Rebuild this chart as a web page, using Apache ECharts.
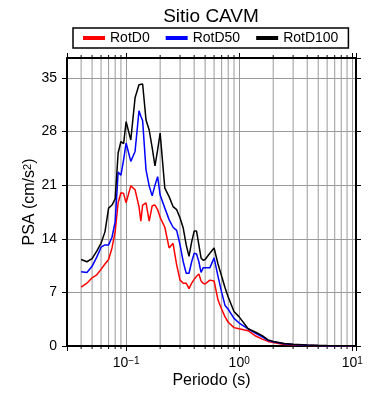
<!DOCTYPE html>
<html lang="es">
  <head>
    <meta charset="UTF-8" />
    <title>Sitio CAVM</title>
    <script src="https://cdn.jsdelivr.net/npm/echarts@6/dist/echarts.min.js"></script>
  </head>
  <body style="margin: 0">
    <div id="main" style="width: 390px; height: 400px"></div>
    <script>
      // periodos (s) y PSA (cm/s2)
      var periodos = [0.04, 0.045, 0.05, 0.055, 0.06, 0.065, 0.07, 0.075, 0.08, 0.085, 0.09, 0.095, 0.1, 0.11, 0.12, 0.13, 0.135, 0.14, 0.15, 0.16, 0.17, 0.18, 0.19, 0.2, 0.22, 0.24, 0.26, 0.28, 0.3, 0.32, 0.34, 0.36, 0.38, 0.4, 0.42, 0.44, 0.46, 0.48, 0.5, 0.55, 0.6, 0.65, 0.7, 0.75, 0.8, 0.9, 1, 1.2, 1.4, 1.6, 1.8, 2, 2.5, 3, 4, 5, 6, 8, 10];
      var rotD0 = [7.7, 8.2, 8.9, 9.3, 10.0, 10.7, 11.3, 12.8, 14.9, 18.7, 20.0, 19.9, 18.7, 20.9, 20.4, 18.2, 16.3, 18.4, 18.7, 16.3, 18.3, 18.4, 17.8, 16.8, 15.5, 12.8, 13.4, 10.6, 8.6, 8.2, 8.2, 7.5, 8.2, 8.7, 9.1, 9.4, 8.5, 8.2, 8.1, 8.6, 8.5, 6.0, 4.8, 3.8, 3.1, 2.4, 2.25, 2.0, 1.3, 0.9, 0.6, 0.45, 0.2, 0.15, 0.08, 0.05, 0.03, 0.02, 0.01];
      var rotD50 = [9.7, 9.6, 10.4, 11.6, 12.9, 13.2, 13.2, 14.2, 16.2, 22.7, 22.3, 24.3, 26.5, 24.1, 25.4, 30.7, 30.0, 29.4, 23.0, 20.9, 19.6, 21.0, 22.1, 19.7, 18.0, 16.5, 15.5, 15.1, 13.2, 11.0, 9.5, 9.5, 11.0, 12.1, 12.0, 11.0, 9.6, 10.2, 10.2, 10.2, 11.5, 9.1, 7.0, 5.3, 4.8, 3.6, 3.0, 2.25, 1.65, 1.2, 0.75, 0.55, 0.3, 0.2, 0.1, 0.06, 0.04, 0.03, 0.02];
      var rotD100 = [11.3, 11.0, 11.4, 12.4, 13.4, 14.9, 18.0, 18.4, 19.2, 25.2, 26.7, 26.4, 29.3, 26.9, 32.4, 34.1, 34.3, 34.2, 29.5, 28.2, 25.9, 23.5, 25.6, 27.8, 20.6, 19.5, 18.2, 17.8, 16.7, 15.4, 13.2, 11.7, 13.6, 15.0, 15.0, 13.2, 11.5, 11.2, 11.3, 12.1, 12.8, 10.7, 9.1, 7.6, 6.4, 4.5, 3.8, 2.25, 1.8, 1.35, 0.8, 0.6, 0.33, 0.22, 0.12, 0.07, 0.05, 0.03, 0.02];

      var nombres = ['RotD0', 'RotD50', 'RotD100'];
      var colores = ['#ff0000', '#0000ff', '#000000'];
      // lineas menores del eje log (2..9 de cada decada)
      var menores = [0.04, 0.05, 0.06, 0.07, 0.08, 0.09, 0.2, 0.3, 0.4, 0.5, 0.6, 0.7, 0.8, 0.9, 2, 3, 4, 5, 6, 7, 8, 9];
      var xMayores = [0.1, 1, 10];
      var xEtiquetas = ['10{s|\u22121}', '10{s|0}', '10{s|1}'];

      var xMin = 0.03, xMax = 10.8, yMax = 37.6;
      var gris = '#9a9a9a';

      var chart = echarts.init(document.getElementById('main'));

      function pares(vals) {
        return periodos.map(function (p, i) {
          return [p, vals[i]];
        });
      }

      var series = [nombres[0], nombres[1], nombres[2]].map(function (n, k) {
        return {
          name: n,
          type: 'line',
          data: pares([rotD0, rotD50, rotD100][k]),
          symbol: 'none',
          lineStyle: { color: colores[k], width: 1.5 },
          itemStyle: { color: colores[k] },
          z: 3,
        };
      });

      // rejilla menor + marcas menores arriba y abajo
      series.push({
        type: 'custom',
        data: menores.map(function (v) { return [v, 0]; }),
        z: 1,
        silent: true,
        renderItem: function (params, api) {
          var x = api.value(0);
          var b = api.coord([x, 0]);
          var t = api.coord([x, yMax]);
          return {
            type: 'group',
            children: [
              { type: 'line', shape: { x1: b[0], y1: b[1] - 1, x2: t[0], y2: t[1] + 1 }, style: { stroke: gris, lineWidth: 1 } },
              { type: 'line', shape: { x1: b[0], y1: b[1], x2: b[0], y2: b[1] + 3 }, style: { stroke: '#000', lineWidth: 1 } },
              { type: 'line', shape: { x1: t[0], y1: t[1], x2: t[0], y2: t[1] - 3 }, style: { stroke: '#000', lineWidth: 1 } },
            ],
          };
        },
      });

      function ejeX(pos, etiquetas) {
        return {
          type: 'log',
          logBase: 10,
          position: pos,
          min: xMin,
          max: xMax,
          name: pos === 'bottom' ? 'Periodo (s)' : '',
          nameLocation: 'middle',
          nameGap: 27,
          nameMoveOverlap: false,
          nameTextStyle: { fontSize: 16, color: '#000' },
          axisLine: { show: true, onZero: false, lineStyle: { color: '#000', width: 2 } },
          axisTick: { show: true, length: 5, lineStyle: { color: '#000' } },
          splitLine: { show: pos === 'bottom', lineStyle: { color: gris, width: 1 } },
          axisLabel: {
            show: etiquetas,
            margin: 10,
            color: '#000',
            formatter: function (v) {
              for (var i = 0; i < xMayores.length; i++) {
                if (Math.abs(Math.log10(v) - Math.log10(xMayores[i])) < 1e-6) return xEtiquetas[i];
              }
              return '';
            },
            rich: {
              s: { fontSize: 10, verticalAlign: 'top', lineHeight: 12, color: '#000' },
            },
            fontSize: 14,
          },
        };
      }

      function ejeY(pos, etiquetas) {
        return {
          type: 'value',
          position: pos,
          min: 0,
          max: yMax,
          interval: 7,
          name: pos === 'left' ? 'PSA (cm/s{s|2})' : '',
          nameLocation: 'middle',
          nameGap: 29,
          nameMoveOverlap: false,
          nameTextStyle: {
            fontSize: 16,
            color: '#000',
            rich: { s: { fontSize: 11, verticalAlign: 'top', lineHeight: 12 } },
          },
          axisLine: { show: true, lineStyle: { color: '#000', width: 2 } },
          axisTick: { show: true, length: 5, lineStyle: { color: '#000' } },
          splitLine: { show: pos === 'left', lineStyle: { color: gris, width: 1 } },
          axisLabel: { show: etiquetas, showMaxLabel: false, margin: 10, fontSize: 14, color: '#000' },
        };
      }

      var option = {
        animation: false,
        textStyle: { fontFamily: 'Liberation Sans' },
        title: {
          text: 'Sitio CAVM',
          left: 211,
          textAlign: 'center',
          top: 7,
          padding: 0,
          textStyle: { fontSize: 19, fontWeight: 'normal', color: '#000' },
        },
        legend: {
          left: 73,
          top: 28,
          padding: [3, 10],
          itemGap: 16,
          itemWidth: 22,
          itemHeight: 4,
          borderColor: '#000',
          borderWidth: 1.5,
          borderRadius: 0,
          backgroundColor: '#fff',
          textStyle: { fontSize: 14, color: '#000' },
          data: nombres.map(function (n) { return { name: n, icon: 'rect' }; }),
        },
        grid: { left: 67, top: 58, width: 289, height: 288 },
        xAxis: [ejeX('bottom', true), ejeX('top', false)],
        yAxis: [ejeY('left', true), ejeY('right', false)],
        series: series,
      };

      chart.setOption(option);
    </script>
  </body>
</html>
